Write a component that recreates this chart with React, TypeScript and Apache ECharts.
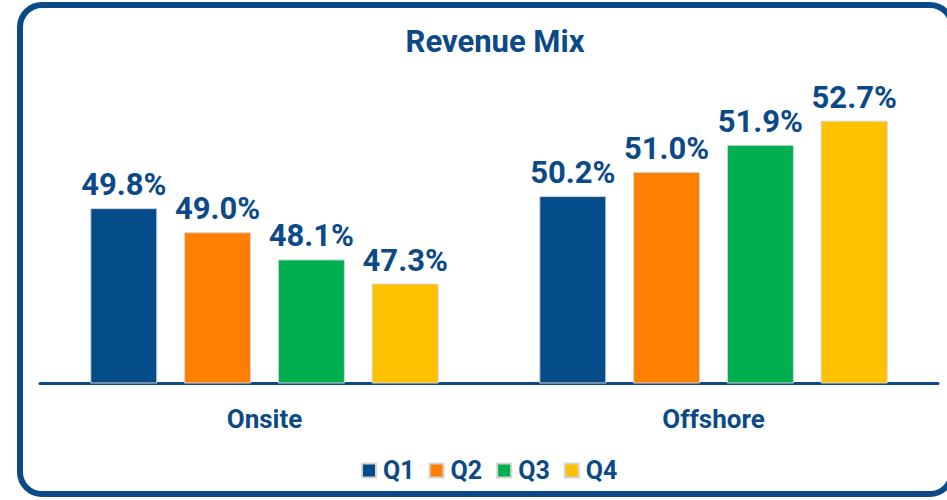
import React, { useEffect, useRef } from "react";
import * as echarts from "echarts";

const categories = ["Onsite", "Offshore"];
const seriesNames = ["Q1", "Q2", "Q3", "Q4"];
const q1 = [49.8, 50.2];
const q2 = [49.0, 51.0];
const q3 = [48.1, 51.9];
const q4 = [47.3, 52.7];
const colors = ["#034b89", "#ff8000", "#00b050", "#ffc000"];

const FONT = "'Liberation Sans Narrow', 'Arial Narrow', 'Roboto', sans-serif";
const BLUE = "#0b4a86";

export default function App() {
  const ref = useRef<HTMLDivElement>(null);
  useEffect(() => {
    if (!ref.current) return;
    const chart = echarts.init(ref.current, null, { renderer: "svg" });
    const values = [q1, q2, q3, q4];
    chart.setOption({
      animation: false,
      backgroundColor: "#ffffff",
      title: {
        text: "Revenue Mix",
        left: 490,
        textAlign: "center",
        top: 21,
        textStyle: { fontFamily: FONT, fontWeight: "bold", fontSize: 31, color: BLUE },
      },
      legend: {
        left: 356,
        top: 453,
        itemWidth: 14,
        itemHeight: 14,
        itemGap: 14,
        icon: "rect",
        textStyle: { fontFamily: FONT, fontWeight: "bold", fontSize: 25, color: BLUE, padding: [0, 0, 0, 2] },
        data: seriesNames,
      },
      grid: { left: 40, right: 9, top: 81.5, bottom: 117 },
      xAxis: {
        type: "category",
        data: categories,
        axisLine: { lineStyle: { color: BLUE, width: 3 } },
        axisTick: { show: false },
        axisLabel: { fontFamily: FONT, fontWeight: "bold", fontSize: 26, color: BLUE, margin: 23 },
      },
      yAxis: { type: "value", min: 44, max: 54, show: false, splitLine: { show: false } },
      series: seriesNames.map((name, i) => ({
        name,
        type: "bar",
        data: values[i],
        barWidth: 67,
        barGap: "40%",
        itemStyle: { color: colors[i], borderColor: "#d4d4d4", borderWidth: 1 },
        label: {
          show: true,
          position: "top",
          distance: 8,
          formatter: (p: any) => p.value.toFixed(1) + "%",
          fontFamily: FONT,
          fontWeight: "bold",
          fontSize: 31,
          color: BLUE,
        },
      })),
      graphic: [
        {
          type: "rect",
          shape: { x: 20, y: 5, width: 932, height: 489, r: 22 },
          style: { fill: "none", stroke: BLUE, lineWidth: 6 },
          silent: true,
          z: 100,
        },
      ],
    });
    return () => chart.dispose();
  }, []);
  return (
    <div
      ref={ref}
      style={{ position: "fixed", left: 0, top: 0, width: 947, height: 500 }}
    />
  );
}
